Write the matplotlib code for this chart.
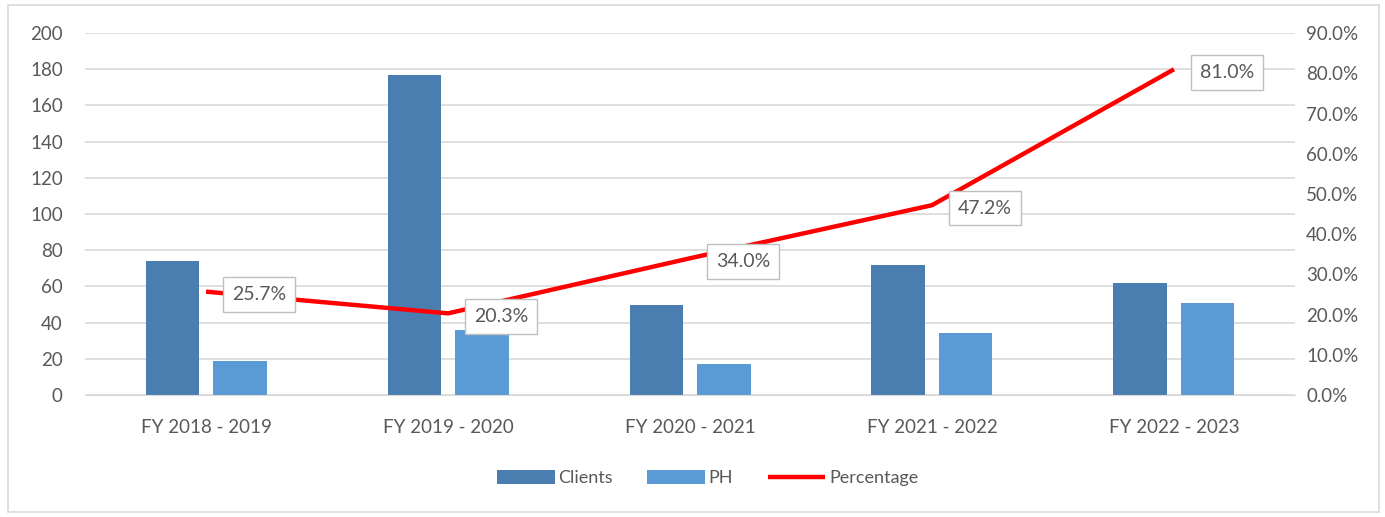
import numpy as np
import matplotlib.pyplot as plt
from matplotlib.patches import Rectangle
from matplotlib.ticker import FuncFormatter

plt.rcParams['font.family'] = ['Lato', 'DejaVu Sans']

years = ["FY 2018 - 2019", "FY 2019 - 2020", "FY 2020 - 2021",
         "FY 2021 - 2022", "FY 2022 - 2023"]
clients = [74, 177, 50, 72, 62]
ph = [19, 36, 17, 34, 51]
percentage = [25.7, 20.3, 34.0, 47.2, 81.0]

text_col = "#595959"
grid_col = "#d9d9d9"

fig = plt.figure(figsize=(13.85, 5.17), dpi=100)
ax = fig.add_axes([0.0614, 0.236, 0.8736, 0.700])
ax2 = ax.twinx()

x = np.arange(len(years))
w = 0.22
ax.bar(x - 0.14, clients, w, color="#4a7eb0", label="Clients", zorder=2)
ax.bar(x + 0.14, ph, w, color="#5b9bd5", label="PH", zorder=2)

ax.set_ylim(0, 200)
ax.set_yticks(range(0, 201, 20))
ax.set_xlim(-0.5, len(years) - 0.5)
ax.set_xticks(x)
ax.set_xticklabels(years)
ax.yaxis.grid(True, color=grid_col, lw=1.2, zorder=0)
ax.set_axisbelow(True)

ax2.plot(x, percentage, color="#ff0000", lw=3.2, label="Percentage",
         solid_capstyle="butt", zorder=3)
ax2.set_ylim(0, 90)
ax2.set_yticks(range(0, 91, 10))
ax2.yaxis.set_major_formatter(FuncFormatter(lambda v, p: "%.1f%%" % v))

for xi, v in zip(x, percentage):
    ax2.annotate("%.1f%%" % v, (xi, v), xytext=(53, -3),
                 textcoords="offset pixels", ha="center", va="center",
                 fontsize=14, color=text_col,
                 bbox=dict(boxstyle="square,pad=0.45", fc="white",
                           ec="#bfbfbf", lw=1))

for a in (ax, ax2):
    for s in a.spines.values():
        s.set_visible(False)
    a.tick_params(length=0, labelsize=13.5, labelcolor=text_col)
ax.spines["bottom"].set_visible(True)
ax.spines["bottom"].set_color(grid_col)
ax.tick_params(axis="y", pad=16)
ax.tick_params(axis="x", pad=17)
ax2.tick_params(axis="y", pad=8)

h1, l1 = ax.get_legend_handles_labels()
h2, l2 = ax2.get_legend_handles_labels()
fig.legend(h1 + h2, l1 + l2, loc="center", bbox_to_anchor=(0.511, 0.075),
           ncol=3, frameon=False, fontsize=13, labelcolor=text_col,
           handlelength=3.2, handleheight=0.8, handletextpad=0.2,
           columnspacing=1.9)

fig.patches.append(Rectangle((0.006, 0.01), 0.99, 0.98, transform=fig.transFigure,
                             fill=False, ec="#d9d9d9", lw=1.2))

fig.savefig("out.png", dpi=100)
